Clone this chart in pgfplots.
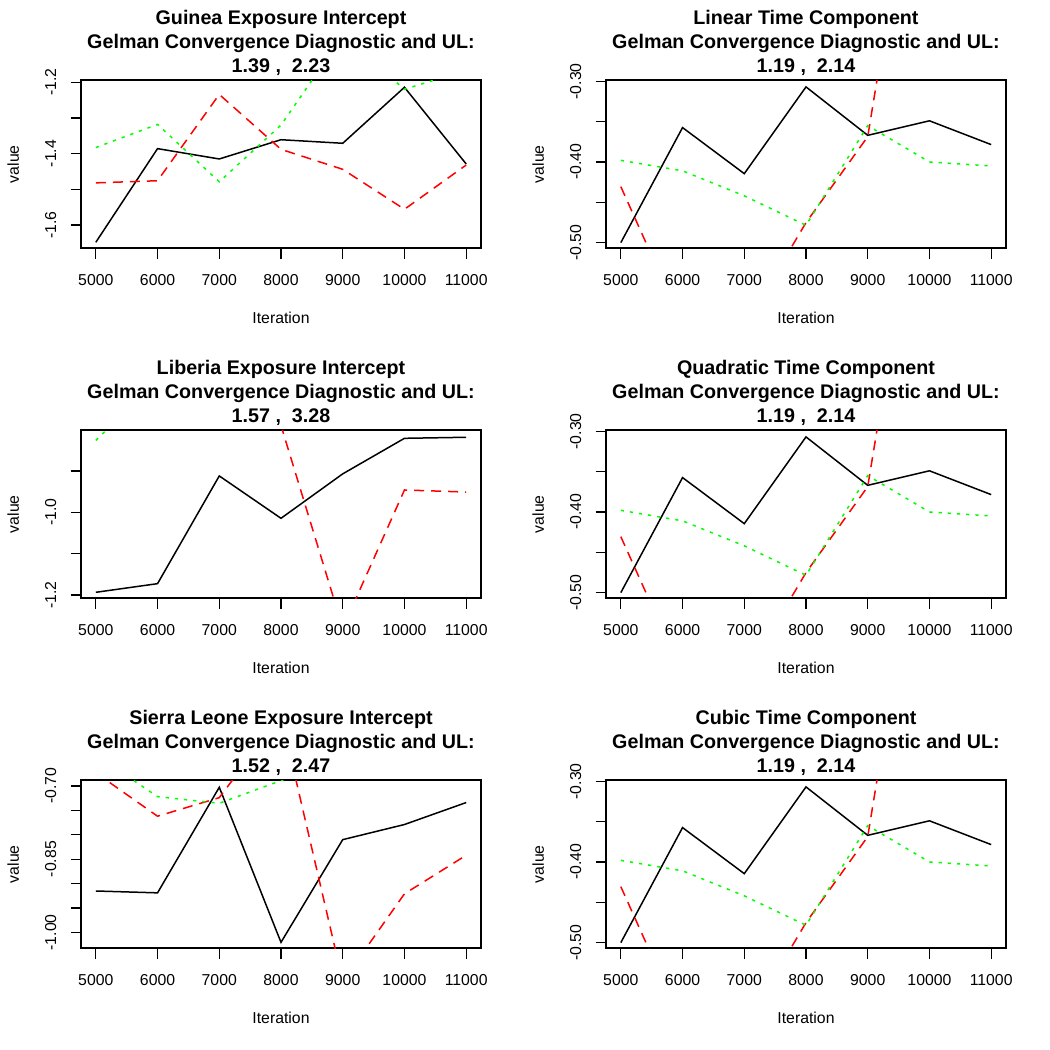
\documentclass[border=0pt]{standalone}
\usepackage{pgfplots}
\pgfplotsset{compat=1.18}
\usepackage{fontspec}
\setmainfont{Liberation Sans}
\definecolor{rgreen}{RGB}{0,255,0}
\definecolor{rred}{RGB}{255,0,0}
\pgfplotsset{
  rpanel/.style={
    scale only axis, width=200pt, height=84pt,
    anchor=south west,
    xmin=4760, xmax=11240,
    xtick={5000,6000,7000,8000,9000,10000,11000},
    xticklabels={5000,6000,7000,8000,9000,10000,11000},
    scaled x ticks=false, scaled y ticks=false,
    axis line style={line width=0.8pt},
    tick style={line width=0.6pt, black},
    major tick length=5.2pt,
    tick align=outside,
    xtick pos=bottom, ytick pos=left,
    tick label style={font=\fontsize{7.9}{9}\selectfont},
    xticklabel style={anchor=north, inner sep=0pt, yshift=-7.5pt},
    yticklabel style={xshift=-7pt, rotate=90, anchor=south, inner sep=0pt},
    label style={font=\fontsize{7.9}{9}\selectfont},
    xlabel={Iteration},
    ylabel={value},
    xlabel style={at={(axis description cs:0.5,-0.4167)}, anchor=center, inner sep=0pt},
    ylabel style={at={(axis description cs:-0.16925,0.5)}, anchor=center, inner sep=0pt, rotate=0},
    title style={at={(axis description cs:0.5,1)}, anchor=south, inner sep=0pt, yshift=-4pt, align=center,
      font=\bfseries\fontsize{9.85}{12}\selectfont},
  },
  kline/.style={black, solid, line width=0.75pt},
  rline/.style={rred, line width=0.75pt, dash pattern=on 5pt off 3.5pt},
  gline/.style={rgreen, line width=0.75pt, dash pattern=on 1.6pt off 3pt},
}
\begin{document}
\begin{tikzpicture}
\path[use as bounding box] (0,0) rectangle (525pt,525pt);

% Panel 1: Guinea
\begin{axis}[rpanel, at={(40.5pt,400.85pt)},
  ymin=-1.6654, ymax=-1.1944,
  ytick={-1.6,-1.5,-1.4,-1.3,-1.2},
  yticklabels={-1.6,{},-1.4,{},-1.2},
  title={Guinea Exposure Intercept\\Gelman Convergence Diagnostic and UL:\\1.39 ,\ \ 2.23}]
\addplot[kline] coordinates {(5000,-1.6486)(6000,-1.386)(7000,-1.415)(8000,-1.361)(9000,-1.371)(10000,-1.214)(11000,-1.429)};
\addplot[rline] coordinates {(5000,-1.482)(6000,-1.476)(7000,-1.234)(8000,-1.388)(9000,-1.444)(10000,-1.556)(11000,-1.432)};
\addplot[gline] coordinates {(5000,-1.383)(6000,-1.318)(7000,-1.479)(8000,-1.320)(9000,-1.07)(10000,-1.2196)(11000,-1.166)};
\end{axis}

% Panel 2: Linear
\begin{axis}[rpanel, at={(303pt,400.85pt)},
  ymin=-0.507, ymax=-0.2988,
  ytick={-0.50,-0.45,-0.40,-0.35,-0.30},
  yticklabels={-0.50,{},-0.40,{},-0.30},
  title={Linear Time Component\\Gelman Convergence Diagnostic and UL:\\1.19 ,\ \ 2.14}]
\addplot[kline] coordinates {(5000,-0.500)(6000,-0.3574)(7000,-0.4145)(8000,-0.307)(9000,-0.367)(10000,-0.349)(11000,-0.3785)};
\addplot[rline] coordinates {(5000,-0.4306)(6000,-0.601)(7000,-0.604)(8000,-0.4752)(9000,-0.3686)(10000,0.099)(11000,0.05)};
\addplot[gline] coordinates {(5000,-0.398)(6000,-0.411)(7000,-0.442)(8000,-0.4785)(9000,-0.355)(10000,-0.400)(11000,-0.405)};
\end{axis}

% Panel 3: Liberia
\begin{axis}[rpanel, at={(40.5pt,225.85pt)},
  ymin=-1.208, ymax=-0.8016,
  ytick={-1.2,-1.1,-1.0,-0.9},
  yticklabels={-1.2,{},-1.0,{}},
  title={Liberia Exposure Intercept\\Gelman Convergence Diagnostic and UL:\\1.57 ,\ \ 3.28}]
\addplot[kline] coordinates {(5000,-1.1935)(6000,-1.1726)(7000,-0.912)(8000,-1.0145)(9000,-0.907)(10000,-0.821)(11000,-0.8185)};
\addplot[rline] coordinates {(5000,-0.55)(6000,-0.50)(7000,-0.60)(8000,-0.79)(9000,-1.28)(10000,-0.946)(11000,-0.951)};
\addplot[gline] coordinates {(5000,-0.826)(6000,-0.681)(7000,-0.62)(8000,-0.70)(9000,-0.66)(10000,-0.60)(11000,-0.65)};
\end{axis}

% Panel 4: Quadratic
\begin{axis}[rpanel, at={(303pt,225.85pt)},
  ymin=-0.507, ymax=-0.2988,
  ytick={-0.50,-0.45,-0.40,-0.35,-0.30},
  yticklabels={-0.50,{},-0.40,{},-0.30},
  title={Quadratic Time Component\\Gelman Convergence Diagnostic and UL:\\1.19 ,\ \ 2.14}]
\addplot[kline] coordinates {(5000,-0.500)(6000,-0.3574)(7000,-0.4145)(8000,-0.307)(9000,-0.367)(10000,-0.349)(11000,-0.3785)};
\addplot[rline] coordinates {(5000,-0.4306)(6000,-0.601)(7000,-0.604)(8000,-0.4752)(9000,-0.3686)(10000,0.099)(11000,0.05)};
\addplot[gline] coordinates {(5000,-0.398)(6000,-0.411)(7000,-0.442)(8000,-0.4785)(9000,-0.355)(10000,-0.400)(11000,-0.405)};
\end{axis}

% Panel 5: Sierra Leone
\begin{axis}[rpanel, at={(40.5pt,50.85pt)},
  ymin=-1.0326, ymax=-0.6884,
  ytick={-1.00,-0.95,-0.90,-0.85,-0.80,-0.75,-0.70},
  yticklabels={-1.00,{},{},-0.85,{},{},-0.70},
  title={Sierra Leone Exposure Intercept\\Gelman Convergence Diagnostic and UL:\\1.52 ,\ \ 2.47}]
\addplot[kline] coordinates {(5000,-0.9152)(6000,-0.919)(7000,-0.7027)(8000,-1.0204)(9000,-0.810)(10000,-0.779)(11000,-0.734)};
\addplot[rline] coordinates {(5000,-0.673)(6000,-0.762)(7000,-0.724)(8000,-0.556)(9000,-1.10)(10000,-0.921)(11000,-0.842)};
\addplot[gline] coordinates {(5000,-0.636)(6000,-0.7219)(7000,-0.7355)(8000,-0.689)(9000,-0.64)(10000,-0.62)(11000,-0.66)};
\end{axis}

% Panel 6: Cubic
\begin{axis}[rpanel, at={(303pt,50.85pt)},
  ymin=-0.507, ymax=-0.2988,
  ytick={-0.50,-0.45,-0.40,-0.35,-0.30},
  yticklabels={-0.50,{},-0.40,{},-0.30},
  title={Cubic Time Component\\Gelman Convergence Diagnostic and UL:\\1.19 ,\ \ 2.14}]
\addplot[kline] coordinates {(5000,-0.500)(6000,-0.3574)(7000,-0.4145)(8000,-0.307)(9000,-0.367)(10000,-0.349)(11000,-0.3785)};
\addplot[rline] coordinates {(5000,-0.4306)(6000,-0.601)(7000,-0.604)(8000,-0.4752)(9000,-0.3686)(10000,0.099)(11000,0.05)};
\addplot[gline] coordinates {(5000,-0.398)(6000,-0.411)(7000,-0.442)(8000,-0.4785)(9000,-0.355)(10000,-0.400)(11000,-0.405)};
\end{axis}
\end{tikzpicture}
\end{document}
